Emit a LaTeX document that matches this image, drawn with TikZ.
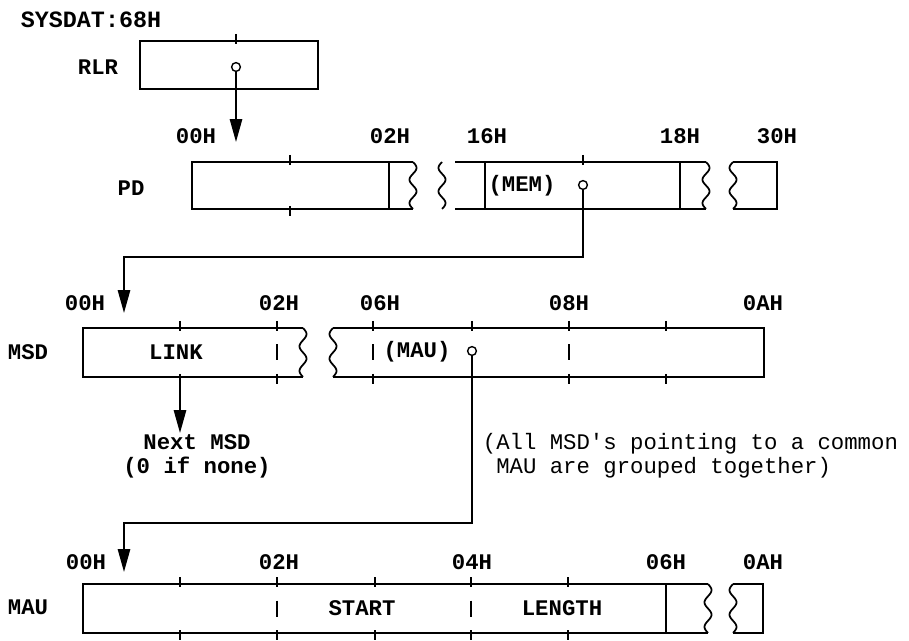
\documentclass[tikz,border=0pt]{standalone}
\usepackage{fontspec}
\setmonofont{Liberation Mono}
\usetikzlibrary{arrows.meta,positioning,calc}

\newcommand{\fldtick}[3]{\draw (#1,#2-7) -- (#1,#2+3) (#1,#3-3) -- (#1,#3+7);}
\newcommand{\fldmid}[3]{\draw (#1,{(#2+#3)/2-8}) -- (#1,{(#2+#3)/2+8});}
\newcommand{\brkwave}[4]{\draw plot[domain=0:1, samples=60, smooth] ({#1+#4*3.5*sin(720*\x)},{#2+(#3-#2)*\x});}

\begin{document}
\begin{tikzpicture}[x=0.02cm, y=-0.02cm, line width=1pt, >={Triangle[length=13pt,width=7pt]},
  offs/.style={font=\ttfamily\bfseries\fontsize{12.7}{12.7}\selectfont, inner sep=0pt},
  rowname/.style={offs},
  ptr/.style={draw, circle, inner sep=0pt, minimum size=5pt, line width=0.8pt},
  note/.style={font=\ttfamily\fontsize{12.7}{13.6}\selectfont, inner sep=0pt}]
\useasboundingbox (0,0) rectangle (909,641);

\node[offs, font=\ttfamily\bfseries\fontsize{13.3}{13.3}\selectfont] (sysdat) at (91,20) {SYSDAT:68H};

% RLR
\node[rowname] (rlrname) at (98,67) {RLR};
\draw (140,41) rectangle (318,89);
\fldtick{236}{41}{89}
\node[ptr] (rlrptr) at (236,67) {};

% PD
\node[rowname] (pdname) at (131,188) {PD};
\node[offs] (pd00) at (196,136) {00H};
\node[offs] (pd02) at (390,136) {02H};
\node[offs] (pd16) at (487,136) {16H};
\node[offs] (pd18) at (680,136) {18H};
\node[offs] (pd30) at (777,136) {30H};
\draw (413,162) -- (192,162) -- (192,209) -- (413,209);
\brkwave{413}{162}{209}{1}
\brkwave{442}{162}{209}{-1}
\draw (455,162) -- (706,162) (455,209) -- (706,209);
\brkwave{706}{162}{209}{1}
\brkwave{733}{162}{209}{-1}
\draw (733,162) -- (777,162) -- (777,209) -- (733,209);
\fldtick{290}{162}{209}
\draw (389,162) -- (389,209) (485,162) -- (485,209) (680,162) -- (680,209);
\fldtick{583}{162}{209}
\node[offs] (mem) at (522,186) {(MEM)};
\node[ptr] (memptr) at (583,185) {};

% MSD
\node[rowname] (msdname) at (28,352) {MSD};
\node[offs] (msd00) at (85,303) {00H};
\node[offs] (msd02) at (279,303) {02H};
\node[offs] (msd06) at (380,303) {06H};
\node[offs] (msd08) at (569,303) {08H};
\node[offs] (msd0a) at (763,303) {0AH};
\draw (303,328) -- (83,328) -- (83,377) -- (303,377);
\brkwave{303}{328}{377}{1}
\brkwave{333}{328}{377}{-1}
\draw (333,328) -- (764,328) -- (764,377) -- (333,377);
\fldtick{180}{328}{377}
\fldtick{277}{328}{377} \fldmid{277}{328}{377}
\fldtick{373}{328}{377} \fldmid{373}{328}{377}
\fldtick{472}{328}{377}
\fldtick{569}{328}{377} \fldmid{569}{328}{377}
\fldtick{666}{328}{377}
\node[offs] (link) at (176,352) {LINK};
\node[offs] (mau) at (417,352) {(MAU)};
\node[ptr] (mauptr) at (472,351) {};

% MAU
\node[rowname] (mauname) at (28,607) {MAU};
\node[offs] (mau00) at (86,562) {00H};
\node[offs] (mau02) at (279,562) {02H};
\node[offs] (mau04) at (472,562) {04H};
\node[offs] (mau06) at (666,562) {06H};
\node[offs] (mau0a) at (763,562) {0AH};
\draw (708,584) -- (83,584) -- (83,633) -- (708,633);
\brkwave{708}{584}{633}{1}
\brkwave{733}{584}{633}{-1}
\draw (733,584) -- (763,584) -- (763,633) -- (733,633);
\fldtick{180}{584}{633}
\fldtick{277}{584}{633} \fldmid{277}{584}{633}
\fldtick{375}{584}{633}
\fldtick{471}{584}{633} \fldmid{471}{584}{633}
\fldtick{568}{584}{633}
\draw (666,584) -- (666,633);
\node[offs] (start) at (362,608) {START};
\node[offs] (length) at (562,608) {LENGTH};

% notes
\node[note, font=\ttfamily\bfseries\fontsize{12.7}{13.6}\selectfont, align=center] (nextmsd) at (197,456) {Next MSD\\(0 if none)};
\node[note, align=left, anchor=west] (grouped) at (482,456) {(All MSD's pointing to a common\\\phantom{(}MAU are grouped together)};

% pointers
\coordinate (pdin) at (236,142);
\coordinate (memturn) at (124,257);
\coordinate (msdin) at (124,313);
\coordinate (linkptr) at (180,377);
\coordinate (linkend) at (180,433);
\coordinate (mauturn) at (124,523);
\coordinate (mauin) at (124,572);
\draw[->] (rlrptr) -- (pdin);
\draw[->] (memptr) |- (memturn) -- (msdin);
\draw[->] (linkptr) -- (linkend);
\draw[->] (mauptr) |- (mauturn) -- (mauin);
\end{tikzpicture}
\end{document}
